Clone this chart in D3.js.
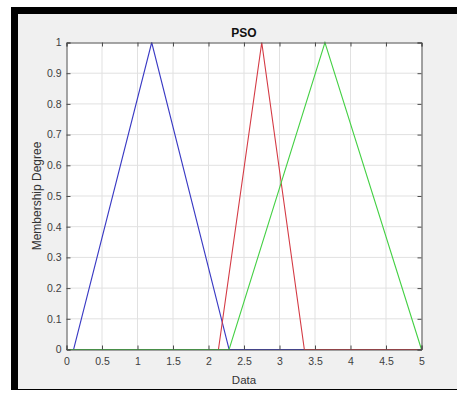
<!DOCTYPE html>
<html>
<head>
<meta charset="utf-8">
<script src="https://cdn.jsdelivr.net/npm/d3@7"></script>
<style>
  body { margin: 0; background: #fff; }
  svg { display: block; }
  text { font-family: "Liberation Sans", Arial, sans-serif; }
</style>
</head>
<body>
<div id="chart"></div>
<script>
// membership functions (triangles), knots
var blueX = [0, 0.1, 1.2, 2.29, 5];
var blueY = [0, 0, 1, 0, 0];
var redX = [0, 2.14, 2.75, 3.35, 5];
var redY = [0, 0, 1, 0, 0];
var greenX = [0, 2.29, 3.64, 5];
var greenY = [0, 0, 1, 0];

var xTicks = [0, 0.5, 1, 1.5, 2, 2.5, 3, 3.5, 4, 4.5, 5];
var yTicks = [0, 0.1, 0.2, 0.3, 0.4, 0.5, 0.6, 0.7, 0.8, 0.9, 1];

var width = 457, height = 394;
var margin = { top: 42.5, right: 35.5, bottom: 44.5, left: 66.5 };

var svg = d3.select("#chart")
    .append("svg")
    .attr("width", width)
    .attr("height", height);

// figure frame: black border with grey inside
svg.append("rect")
    .attr("x", 11).attr("y", 7)
    .attr("width", width - 11).attr("height", 383)
    .attr("fill", "#000");
svg.append("rect")
    .attr("x", 18).attr("y", 14)
    .attr("width", width - 18).attr("height", 375)
    .attr("fill", "#f0f0f0");

var x = d3.scaleLinear()
    .domain([0, 5])
    .range([margin.left, width - margin.right]);

var y = d3.scaleLinear()
    .domain([0, 1])
    .range([height - margin.bottom, margin.top]);

// plot area
svg.append("rect")
    .attr("x", x(0)).attr("y", y(1))
    .attr("width", x(5) - x(0)).attr("height", y(0) - y(1))
    .attr("fill", "#fff");

// grid
svg.append("g")
    .selectAll("line")
    .data(xTicks.slice(1, -1))
    .enter()
    .append("line")
    .attr("x1", d => x(d)).attr("x2", d => x(d))
    .attr("y1", y(0)).attr("y2", y(1))
    .attr("stroke", "#e1e1e1");
svg.append("g")
    .selectAll("line")
    .data(yTicks.slice(1, -1))
    .enter()
    .append("line")
    .attr("x1", x(0)).attr("x2", x(5))
    .attr("y1", d => y(d)).attr("y2", d => y(d))
    .attr("stroke", "#e1e1e1");

// series, drawn blue, red, green
var line = d3.line()
    .x(d => x(d[0]))
    .y(d => y(d[1]));

var series = [
    { xs: blueX, ys: blueY, color: "#3a3ac4" },
    { xs: redX, ys: redY, color: "#d43a44" },
    { xs: greenX, ys: greenY, color: "#44d044" }
];

series.forEach(function (s) {
    svg.append("path")
        .datum(d3.zip(s.xs, s.ys))
        .attr("d", line)
        .attr("fill", "none")
        .attr("stroke", s.color)
        .attr("stroke-width", 1.1);
});

// axes, ticks inward on all sides
var axisColor = "#4d4d4d";
var tickLen = 4;

var xAxis = svg.append("g")
    .attr("transform", "translate(0," + y(0) + ")")
    .call(d3.axisBottom(x).tickValues(xTicks).tickSize(-tickLen).tickPadding(8).tickFormat(d3.format("")));
var xAxisTop = svg.append("g")
    .attr("transform", "translate(0," + y(1) + ")")
    .call(d3.axisTop(x).tickValues(xTicks).tickSize(-tickLen).tickFormat(""));
var yAxis = svg.append("g")
    .attr("transform", "translate(" + x(0) + ",0)")
    .call(d3.axisLeft(y).tickValues(yTicks).tickSize(-tickLen).tickPadding(5).tickFormat(d3.format("")));
var yAxisRight = svg.append("g")
    .attr("transform", "translate(" + x(5) + ",0)")
    .call(d3.axisRight(y).tickValues(yTicks).tickSize(-tickLen).tickFormat(""));

[xAxis, xAxisTop, yAxis, yAxisRight].forEach(function (a) {
    a.select(".domain").attr("stroke", axisColor);
    a.selectAll(".tick line").attr("stroke", axisColor);
    a.selectAll(".tick text")
        .attr("fill", "#404040")
        .style("font-size", "10.5px")
        .style("font-family", "'Liberation Sans', Arial, sans-serif");
});

// title and labels
svg.append("text")
    .attr("x", (x(0) + x(5)) / 2)
    .attr("y", 37)
    .attr("text-anchor", "middle")
    .style("font-size", "12px")
    .style("font-weight", "bold")
    .attr("fill", "#111")
    .text("PSO");

svg.append("text")
    .attr("x", (x(0) + x(5)) / 2)
    .attr("y", 384)
    .attr("text-anchor", "middle")
    .style("font-size", "11.5px")
    .attr("fill", "#333")
    .text("Data");

svg.append("text")
    .attr("transform", "translate(41," + ((y(0) + y(1)) / 2) + ") rotate(-90)")
    .attr("text-anchor", "middle")
    .style("font-size", "12px")
    .attr("fill", "#333")
    .text("Membership Degree");
</script>
</body>
</html>
